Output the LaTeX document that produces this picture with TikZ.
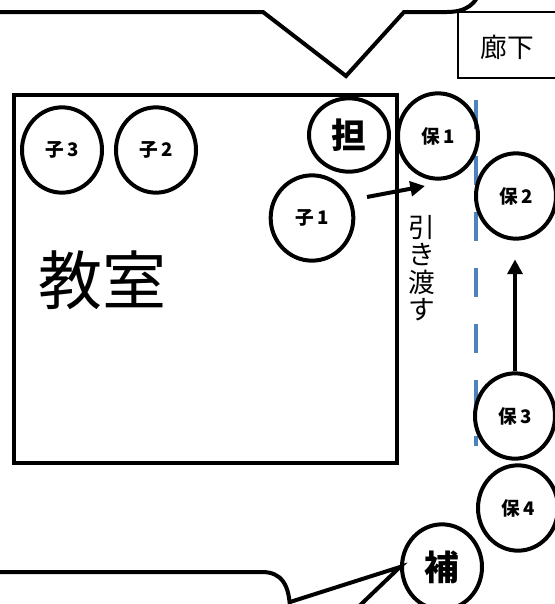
\documentclass[tikz,border=0pt]{standalone}
\usepackage{fontspec}
\usepackage{tikz}
\usetikzlibrary{shapes.geometric,arrows.meta}
\newfontfamily\cjk{Noto Sans CJK JP}
\definecolor{dashblue}{HTML}{4F81BD}

\tikzset{
  person/.style={draw, ellipse, line width=3pt, inner sep=0pt,
    minimum width=60pt, minimum height=64pt,
    font=\cjk\bfseries\fontsize{14}{14}\selectfont},
  big/.style={font=\cjk\bfseries\fontsize{26}{26}\selectfont}
}

\begin{document}
\begin{tikzpicture}[x=0.75pt, y=-0.75pt, line width=3pt,
    >={Triangle[length=11pt, width=11pt]}]
      \useasboundingbox (0, 0) rectangle (555, 604);
      \clip (0, 0) rectangle (555, 604);

      \draw (-10, 12) -- (263, 12) -- (346, 76) -- (404, 12) -- (447, 12)
        .. controls (466, 12) and (477, 4) .. (481, -12);

      \draw[line width=1pt] (458, 12) rectangle (565, 78);
      \node[font=\cjk\fontsize{20}{20}\selectfont] (roka) at (507, 47) {廊下};

      \draw (14, 95) rectangle (397, 463);
      \node[font=\cjk\fontsize{48}{48}\selectfont] (kyo) at (102, 280) {教室};

      \draw[dashblue, line width=3.5pt, dash pattern=on 22 off 20] (476, 100) -- (476, 446);

      \node[person] (ko3) at (62, 150) {子\,3};
      \node[person] (ko2) at (156, 150) {子\,2};
      \node[person, big, minimum height=55pt] (tan) at (349, 135) {担};
      \node[person] (ho1) at (438, 136) {保\,1};
      \node[person, minimum width=62pt] (ko1) at (312, 218) {子\,1};
      \node[person] (ho2) at (516, 196) {保\,2};
      \node[person] (ho3) at (515, 416) {保\,3};
      \node[person] (ho4) at (518, 508) {保\,4};
      \node[person, big] (hojo) at (442, 567) {補};

      \node[font=\cjk\fontsize{20}{20.6}\selectfont, align=center] (hiki) at (422, 268)
        {引\\き\\渡\\す};

      \coordinate (a1) at (367, 197);
      \coordinate (a2) at (425, 186);
      \draw[->] (a1) -- (a2);
      \draw[->] (ho3.north) -- ++(0, -112);

      \draw (-10, 572) -- (262, 572) .. controls (281, 572) and (290, 584) .. (290, 612);
      \draw (290, 602) -- (hojo.west) -- (353, 612);
\end{tikzpicture}
\end{document}
